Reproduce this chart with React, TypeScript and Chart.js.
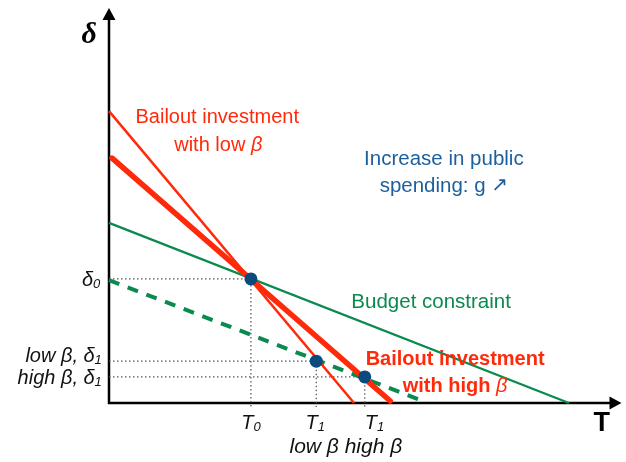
import React, { useEffect, useRef } from "react";
import { Chart, registerables } from "chart.js";

Chart.register(...registerables);

// ---- data (abstract units: T on x, delta on y, both 0..10) ----
const lowBetaLine = [
  { x: 0, y: 7.39 },
  { x: 4.8, y: 0 },
];
const highBetaLine = [
  { x: 0.06, y: 6.2 },
  { x: 5.51, y: 0.05 },
];
const budgetLine = [
  { x: 0, y: 4.56 },
  { x: 9.01, y: 0 },
];
const budgetShifted = [
  { x: 0, y: 3.11 },
  { x: 6.19, y: 0.03 },
];
const eqT = [2.78, 4.06, 5.01];
const eqDelta = [3.14, 1.06, 0.66];
const guideBottom = -0.1;

const RED = "#ff2a0a";
const GREEN = "#0a8a4e";
const BLUE_PT = "#0b4a7c";
const BLUE_TXT = "#1c5f9c";
const SANS = "'Liberation Sans', Arial, Helvetica, sans-serif";

type Seg = { text: string; font: string; color: string; dy?: number };
type Label = { x: number; y: number; align: "left" | "center" | "right"; segs: Seg[] };

const it = `italic 20px ${SANS}`;
const sub = `italic 13px ${SANS}`;
const K = "#111";

const labels: Label[] = [
  { x: 2.12, y: 7.22, align: "center", segs: [{ text: "Bailout investment", font: `20px ${SANS}`, color: RED }] },
  {
    x: 2.14, y: 6.53, align: "center",
    segs: [
      { text: "with low ", font: `20px ${SANS}`, color: RED },
      { text: "β", font: `italic 20px ${SANS}`, color: RED },
    ],
  },
  { x: 6.56, y: 6.18, align: "center", segs: [{ text: "Increase in public", font: `20.5px ${SANS}`, color: BLUE_TXT }] },
  {
    x: 6.56, y: 5.49, align: "center",
    segs: [
      { text: "spending: g ", font: `20.5px ${SANS}`, color: BLUE_TXT },
      { text: "↗", font: `20px 'DejaVu Sans', ${SANS}`, color: BLUE_TXT },
    ],
  },
  { x: 6.31, y: 2.56, align: "center", segs: [{ text: "Budget constraint", font: `20.5px ${SANS}`, color: GREEN }] },
  { x: 6.78, y: 1.11, align: "center", segs: [{ text: "Bailout investment", font: `bold 20px ${SANS}`, color: RED }] },
  {
    x: 6.78, y: 0.43, align: "center",
    segs: [
      { text: "with high ", font: `bold 20px ${SANS}`, color: RED },
      { text: "β", font: `italic 20px ${SANS}`, color: RED },
    ],
  },
  {
    x: -0.17, y: 3.11, align: "right",
    segs: [
      { text: "δ", font: it, color: K },
      { text: "0", font: sub, color: K, dy: 4 },
    ],
  },
  {
    x: -0.14, y: 1.19, align: "right",
    segs: [
      { text: "low β, δ", font: it, color: K },
      { text: "1", font: sub, color: K, dy: 4 },
    ],
  },
  {
    x: -0.14, y: 0.63, align: "right",
    segs: [
      { text: "high β, δ", font: it, color: K },
      { text: "1", font: sub, color: K, dy: 4 },
    ],
  },
  {
    x: 2.78, y: -0.51, align: "center",
    segs: [
      { text: "T", font: it, color: K },
      { text: "0", font: sub, color: K, dy: 4 },
    ],
  },
  {
    x: 4.04, y: -0.51, align: "center",
    segs: [
      { text: "T", font: it, color: K },
      { text: "1", font: sub, color: K, dy: 4 },
    ],
  },
  {
    x: 5.2, y: -0.51, align: "center",
    segs: [
      { text: "T", font: it, color: K },
      { text: "1", font: sub, color: K, dy: 4 },
    ],
  },
  { x: 4.64, y: -1.11, align: "center", segs: [{ text: "low β high β", font: `italic 21px ${SANS}`, color: K }] },
  { x: -0.39, y: 9.32, align: "center", segs: [{ text: "δ", font: "bold italic 30px 'Liberation Serif', 'DejaVu Serif', serif", color: "#000" }] },
  { x: 9.65, y: -0.51, align: "center", segs: [{ text: "T", font: `bold 27px ${SANS}`, color: "#000" }] },
];

function drawRich(ctx: CanvasRenderingContext2D, segs: Seg[], x: number, y: number, align: string) {
  const widths = segs.map((s) => {
    ctx.font = s.font;
    return ctx.measureText(s.text).width;
  });
  const total = widths.reduce((a, b) => a + b, 0);
  let cx = align === "center" ? x - total / 2 : align === "right" ? x - total : x;
  ctx.textAlign = "left";
  ctx.textBaseline = "middle";
  segs.forEach((s, i) => {
    ctx.font = s.font;
    ctx.fillStyle = s.color;
    ctx.fillText(s.text, cx, y + (s.dy || 0));
    cx += widths[i];
  });
}

const axesPlugin = {
  id: "axesArrows",
  beforeDatasetsDraw(chart: any) {
    const { ctx, chartArea } = chart;
    const { left, right, top, bottom } = chartArea;
    ctx.save();
    ctx.strokeStyle = "#000";
    ctx.fillStyle = "#000";
    ctx.lineWidth = 2.5;
    ctx.beginPath();
    ctx.moveTo(left, bottom + 1);
    ctx.lineTo(left, top + 8);
    ctx.moveTo(left - 1, bottom);
    ctx.lineTo(right - 8, bottom);
    ctx.stroke();
    ctx.beginPath();
    ctx.moveTo(left, top);
    ctx.lineTo(left - 6.5, top + 12);
    ctx.lineTo(left + 6.5, top + 12);
    ctx.closePath();
    ctx.fill();
    ctx.beginPath();
    ctx.moveTo(right + 2, bottom);
    ctx.lineTo(right - 10, bottom - 6.5);
    ctx.lineTo(right - 10, bottom + 6.5);
    ctx.closePath();
    ctx.fill();
    ctx.restore();
  },
  afterDatasetsDraw(chart: any) {
    const { ctx, scales } = chart;
    ctx.save();
    labels.forEach((l) => {
      drawRich(ctx, l.segs, scales.x.getPixelForValue(l.x), scales.y.getPixelForValue(l.y), l.align);
    });
    ctx.restore();
  },
};

export default function App() {
  const ref = useRef<HTMLCanvasElement | null>(null);
  useEffect(() => {
    if (!ref.current) return;
    const guides: any[] = [];
    eqT.forEach((t, i) => {
      const d = eqDelta[i];
      guides.push({
        data: [
          { x: 0, y: d },
          { x: t, y: d },
          { x: t, y: guideBottom },
        ],
        borderColor: "#555",
        borderWidth: 1.2,
        borderDash: [1.5, 2.5],
        pointRadius: 0,
        clip: false,
        order: 5,
      });
    });
    const chart = new Chart(ref.current, {
      type: "line",
      data: {
        datasets: [
          ...guides,
          { data: budgetLine, borderColor: GREEN, borderWidth: 2.3, pointRadius: 0, clip: false, order: 4 },
          { data: budgetShifted, borderColor: GREEN, borderWidth: 4, borderDash: [11, 9], pointRadius: 0, clip: false, order: 4 },
          { data: lowBetaLine, borderColor: RED, borderWidth: 2.5, pointRadius: 0, clip: false, order: 3 },
          { data: highBetaLine, borderColor: RED, borderWidth: 5.5, pointRadius: 0, clip: false, order: 3, borderCapStyle: "round" },
          {
            data: eqT.map((t, i) => ({ x: t, y: eqDelta[i] })),
            showLine: false,
            pointRadius: 6.5,
            pointBackgroundColor: BLUE_PT,
            pointBorderColor: BLUE_PT,
            pointBorderWidth: 0,
            clip: false,
            order: 1,
          },
        ],
      },
      options: {
        animation: false,
        responsive: false,
        events: [],
        layout: { padding: { left: 109, right: 2, top: 8, bottom: 59 } },
        plugins: { legend: { display: false }, tooltip: { enabled: false } },
        scales: {
          x: { type: "linear", min: 0, max: 10, display: false },
          y: { type: "linear", min: 0, max: 10, display: false },
        },
      } as any,
      plugins: [axesPlugin],
    });
    return () => chart.destroy();
  }, []);
  return (
    <div style={{ position: "absolute", left: 0, top: 0, width: 626, height: 462, background: "#fff" }}>
      <canvas ref={ref} width={626} height={462} style={{ width: 626, height: 462 }} />
    </div>
  );
}
